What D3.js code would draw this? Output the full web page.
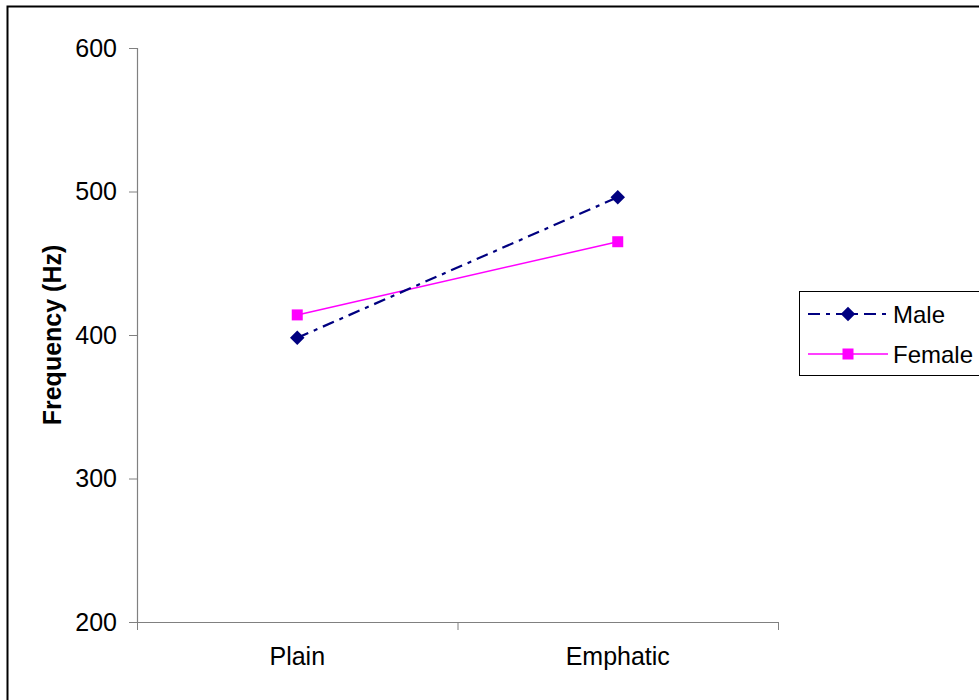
<!DOCTYPE html>
<html>
<head>
<meta charset="utf-8">
<script src="https://cdn.jsdelivr.net/npm/d3@7"></script>
<style>
  body { margin: 0; background: #fff; }
  text { font-family: "Liberation Sans", Arial, sans-serif; }
</style>
</head>
<body>
<div id="chart"></div>
<script>
const categories = ["Plain", "Emphatic"]
const maleValues = [398, 496]
const femaleValues = [414, 465]
const yTicks = [200, 300, 400, 500, 600]

const W = 979, H = 700
const svg = d3.select("#chart").append("svg")
    .attr("width", W).attr("height", H)

// outer frame (only top and left edges visible in the picture)
svg.append("path")
    .attr("d", `M7.5,${H} L7.5,6.5 L${W},6.5`)
    .attr("fill", "none").attr("stroke", "#000").attr("stroke-width", 2)

const plotLeft = 137, plotRight = 778, plotTop = 48, plotBottom = 622

const x = d3.scaleBand().domain(categories).range([plotLeft, plotRight])
const y = d3.scaleLinear().domain([200, 600]).range([plotBottom, plotTop])

const gy = svg.append("g").attr("transform", `translate(${plotLeft},0)`)
    .call(d3.axisLeft(y).tickValues(yTicks).tickSize(8).tickPadding(12).tickFormat(d3.format("d")))
const gx = svg.append("g").attr("transform", `translate(0,${plotBottom})`)
    .call(d3.axisBottom(x).tickSize(0).tickPadding(25))

// category boundary ticks, excel style
gx.selectAll(".boundary")
    .data([plotLeft, (plotLeft + plotRight) / 2, plotRight])
    .enter().append("line")
    .attr("x1", d => d + 0.5).attr("x2", d => d + 0.5)
    .attr("y1", 0).attr("y2", 8)
    .attr("stroke", "#808080")

;[gx, gy].forEach(g => {
    g.selectAll("path,line").attr("stroke", "#808080")
    g.select(".domain").attr("stroke-width", 1.2)
    g.selectAll("text").attr("font-size", 25).attr("fill", "#000")
        .attr("font-family", "'Liberation Sans', Arial, sans-serif")
})

svg.append("text")
    .attr("transform", `translate(61,${(plotTop + plotBottom) / 2}) rotate(-90)`)
    .attr("text-anchor", "middle")
    .attr("font-size", 25).attr("font-weight", "bold")
    .text("Frequency (Hz)")

const cx = d => x(d) + x.bandwidth() / 2
const line = vals => d3.line().x((d, i) => cx(categories[i])).y(d => y(d))(vals)

svg.append("path").attr("d", line(femaleValues))
    .attr("fill", "none").attr("stroke", "#ff00ff").attr("stroke-width", 1.5)
svg.append("path").attr("d", line(maleValues))
    .attr("fill", "none").attr("stroke", "#000080").attr("stroke-width", 2.2)
    .attr("stroke-dasharray", "12,6,4,6")

const diamond = d3.symbol().type(d3.symbolSquare).size(105)
svg.selectAll(".m").data(maleValues).enter().append("path")
    .attr("d", diamond)
    .attr("transform", (d, i) => `translate(${cx(categories[i])},${y(d)}) rotate(45)`)
    .attr("fill", "#000080")
svg.selectAll(".f").data(femaleValues).enter().append("rect")
    .attr("x", (d, i) => cx(categories[i]) - 5.5)
    .attr("y", d => y(d) - 5.5)
    .attr("width", 11).attr("height", 11)
    .attr("fill", "#ff00ff")

// legend
const lg = svg.append("g")
lg.append("rect").attr("x", 799.5).attr("y", 291.5).attr("width", 200).attr("height", 84)
    .attr("fill", "#fff").attr("stroke", "#000")
const legendItems = [
    {name: "Male", color: "#000080", dash: "12,6,4,6", w: 2.2, ly: 314},
    {name: "Female", color: "#ff00ff", dash: null, w: 1.5, ly: 354}
]
legendItems.forEach(it => {
    lg.append("line").attr("x1", 808).attr("x2", 888).attr("y1", it.ly).attr("y2", it.ly)
        .attr("stroke", it.color).attr("stroke-width", it.w)
        .attr("stroke-dasharray", it.dash)
    if (it.name === "Male") {
        lg.append("path").attr("d", diamond)
            .attr("transform", `translate(848,${it.ly}) rotate(45)`).attr("fill", it.color)
    } else {
        lg.append("rect").attr("x", 842.5).attr("y", it.ly - 5.5).attr("width", 11).attr("height", 11)
            .attr("fill", it.color)
    }
    lg.append("text").attr("x", 893).attr("y", it.ly + 8.5).attr("font-size", 24).text(it.name)
})
</script>
</body>
</html>
